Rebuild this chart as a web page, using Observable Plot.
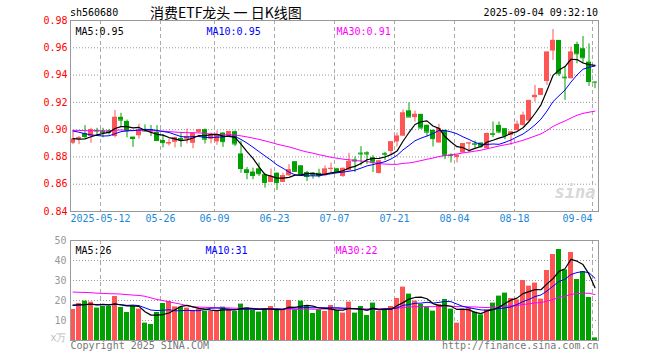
<!DOCTYPE html>
<html><head><meta charset="utf-8">
<script src="https://cdn.jsdelivr.net/npm/d3@7"></script>
<script src="https://cdn.jsdelivr.net/npm/@observablehq/plot@0.6"></script>
<style>
body{margin:0;background:#fff;}
#wrap{position:relative;width:660px;height:360px;overflow:hidden;font-family:"DejaVu Sans Mono",monospace;background:#fff;}
.t{position:absolute;white-space:pre;line-height:1;}
#main,#vol{position:absolute;left:0;}
#main{top:0;} #vol{top:232px;}
</style></head><body>
<div id="wrap">
  <div class="t" style="left:70px;top:8px;font-size:10px;color:#000">sh560680</div>
  <div class="t" style="left:150px;top:5px;font-size:14px;font-family:'Noto Sans CJK SC',sans-serif;color:#000">消费ETF龙头 一 日K线图</div>
  <div class="t" style="right:62px;top:8px;font-size:10px;color:#000">2025-09-04 09:32:10</div>
  <div id="main"></div>
  <div id="vol"></div>
</div>
<script>
const dates = ["04-30","05-06","05-07","05-08","05-09","05-12","05-13","05-14","05-15","05-16","05-19","05-20","05-21","05-22","05-23","05-26","05-27","05-28","05-29","05-30","06-03","06-04","06-05","06-06","06-09","06-10","06-11","06-12","06-13","06-16","06-17","06-18","06-19","06-20","06-23","06-24","06-25","06-26","06-27","06-30","07-01","07-02","07-03","07-04","07-07","07-08","07-09","07-10","07-11","07-14","07-15","07-16","07-17","07-18","07-21","07-22","07-23","07-24","07-25","07-28","07-29","07-30","07-31","08-01","08-04","08-05","08-06","08-07","08-08","08-11","08-12","08-13","08-14","08-15","08-18","08-19","08-20","08-21","08-22","08-25","08-26","08-27","08-28","08-29","09-01","09-02","09-03","09-04"];

const open = [0.890,0.893,0.897,0.895,0.8995,0.899,0.899,0.895,0.909,0.906, 0.8945,0.8955,0.900,0.900,0.898,0.892,0.8895,0.8907,0.8935,0.893, 0.890,0.898,0.900,0.893,0.891,0.8975,0.895,0.8985,0.8822,0.8706, 0.8689,0.8713,0.867,0.8613,0.8681,0.8613,0.8662,0.8765,0.8735,0.8686, 0.8681,0.868,0.8662,0.871,0.8713,0.8657,0.8699,0.8778,0.8828,0.8830, 0.8795,0.8679,0.8826,0.8840,0.8910,0.8952,0.9138,0.9088,0.9112,0.9032, 0.8995,0.8902,0.8995,0.8814,0.8795,0.8829,0.8898,0.8897,0.8902,0.8861, 0.8971,0.9031,0.9007,0.8958,0.8993,0.9031,0.9063,0.9234,0.9251,0.9353, 0.9576,0.9654,0.9385,0.9373,0.9624,0.9593,0.9495,0.9349];
const high = [0.899,0.895,0.903,0.901,0.901,0.901,0.900,0.914,0.912,0.907, 0.8945,0.904,0.9035,0.903,0.903,0.8965,0.893,0.8945,0.898,0.9005, 0.8975,0.9002,0.9005,0.8975,0.899,0.8975,0.8985,0.899,0.8915,0.8723, 0.8718,0.8755,0.868,0.8711,0.8681,0.8681,0.8743,0.8765,0.8735,0.8694, 0.8684,0.871,0.8735,0.8755,0.8713,0.8718,0.8826,0.880,0.8875,0.8838, 0.8809,0.8775,0.8833,0.8912,0.8975,0.9145,0.9196,0.9136,0.9112,0.9032, 0.8998,0.9039,0.8995,0.8824,0.8812,0.8897,0.8902,0.8917,0.8902,0.8976, 0.9056,0.9056,0.9007,0.8985,0.9063,0.9129,0.9214,0.9324,0.9300,0.9568, 0.9734,0.9654,0.9458,0.9605,0.9641,0.9683,0.9629,0.9349];
const low = [0.889,0.889,0.893,0.890,0.895,0.894,0.896,0.894,0.902,0.894, 0.887,0.893,0.898,0.895,0.8915,0.8866,0.888,0.8866,0.887,0.8895, 0.886,0.8975,0.8895,0.8895,0.8885,0.887,0.8945,0.8875,0.868,0.8633, 0.8633,0.8657,0.8571,0.8613,0.8554,0.8613,0.8657,0.8686,0.8657,0.862, 0.8637,0.8645,0.8655,0.8682,0.8677,0.865,0.8699,0.8686,0.8735,0.8745, 0.8686,0.8674,0.8772,0.8810,0.8873,0.8952,0.9092,0.9056,0.9005,0.8948, 0.8873,0.8902,0.8780,0.8756,0.8756,0.8829,0.8829,0.8861,0.8861,0.8853, 0.8941,0.8970,0.8926,0.8885,0.8993,0.9025,0.9063,0.9202,0.9251,0.9324, 0.9507,0.9390,0.9214,0.9373,0.9483,0.9483,0.9317,0.9300];
const close = [0.893,0.894,0.895,0.900,0.899,0.898,0.898,0.909,0.907,0.899, 0.8935,0.8995,0.899,0.899,0.892,0.8905,0.8905,0.894,0.8925,0.895, 0.8973,0.8998,0.893,0.8965,0.896,0.8912,0.8985,0.8895,0.8715,0.8686, 0.8664,0.8677,0.8613,0.8657,0.8613,0.8662,0.8706,0.8694,0.8669,0.8657, 0.8669,0.8665,0.8711,0.8716,0.8686,0.8716,0.8767,0.8770,0.8822,0.8822, 0.8762,0.8770,0.8820,0.8910,0.8952,0.9122,0.9092,0.9112,0.9012,0.8982, 0.8934,0.9007,0.8812,0.8810,0.8812,0.8897,0.8902,0.8893,0.8878,0.8971, 0.8966,0.8983,0.8958,0.8983,0.9039,0.9105,0.9214,0.9251,0.9300,0.9568, 0.9654,0.9410,0.9380,0.9568,0.9556,0.9527,0.9353,0.9348];
const volume = [15.5,18.5,19.7,19.2,16.2,17,17,22,16.5,14, 17,15.7,8.7,8,14,18.5,19.5,16.8,16.7,16.2, 15,15.7,14.7,14.5,15,16.7,15.5,14.5,18.2,16.3, 15,14.2,15.7,17,15.3,15.3,20,15.3,19.7,17.5, 13.5,15.3,14.5,17.5,15,13.7,19.2,13.7,17,12.5, 18.7,14.5,15.5,17,21,26.7,23.2,19.7,18,16.7, 14.7,18,20.5,15.7,8.7,15.3,16.3,14.2,12.8,15.3, 18.7,22.2,23.7,21,20.3,30,27.2,28.7,20.7,35, 43,45.5,35.3,44,30.5,34.5,21.5,1.3];
// estimated closes / volumes of the 29 sessions before the window (needed for MA30)
const priorClose = [0.897,0.899,0.901,0.898,0.902,0.900,0.896,0.899,0.903,0.901,0.898,0.900,0.902,0.899,0.897,0.900,0.903,0.901,0.900,0.899,0.903,0.906,0.908,0.904,0.902,0.896,0.894,0.892,0.892];
const priorVolume = [21,23,22,24,20,22,23,21,22,24,21,21,33,37,36,38,34,35,36,35,18,19,17,19,17.5,17,19,18,18];

const tickDates = ["05-12","05-26","06-09","06-23","07-07","07-21","08-04","08-18","09-04"];
const tickLabels = ["2025-05-12","05-26","06-09","06-23","07-07","07-21","08-04","08-18","09-04"];
const priceTicks = [0.84,0.86,0.88,0.90,0.92,0.94,0.96,0.98];
const volTicks = [10,20,30,40,50];

const RED = "#ff5555", GREEN = "#00a000", BLUE = "#0000ff", MAG = "#ff00ff";
const WICK = 5/12;

function movingAvg(prior, vals, n) {
  const all = prior.concat(vals), p = prior.length;
  return vals.map((_, i) => d3.mean(all.slice(p + i - n + 1, p + i + 1)));
}
const cMA5 = movingAvg(priorClose, close, 5), cMA10 = movingAvg(priorClose, close, 10), cMA30 = movingAvg(priorClose, close, 30);
const vMA5 = movingAvg(priorVolume, volume, 5), vMA10 = movingAvg(priorVolume, volume, 10), vMA30 = movingAvg(priorVolume, volume, 30);

const rows = dates.map((d, i) => ({i, d, o: open[i], h: high[i], l: low[i], c: close[i], v: volume[i],
  m5: cMA5[i], m10: cMA10[i], m30: cMA30[i], vm5: vMA5[i], vm10: vMA10[i], vm30: vMA30[i]}));
const up = rows.filter(r => r.c >= r.o), dn = rows.filter(r => r.c < r.o);
const ticks = tickDates.map((d, k) => ({i: dates.indexOf(d), label: tickLabels[k]}));
const tickIdx = ticks.map(t => t.i);
const last = rows.length - 1;

const font = {fontFamily: "DejaVu Sans Mono, monospace", fontSize: "10px", background: "transparent", overflow: "visible"};
const dotted = {stroke: "#999", strokeDasharray: "1,2"};
const dashed = {stroke: "#aaa", strokeDasharray: "4,3"};
const cx = r => r.i + WICK;

function candles(data, color) {
  return [
    Plot.ruleX(data, {x: cx, y1: "l", y2: "h", stroke: color, strokeWidth: 1}),
    Plot.rect(data, {x1: "i", x2: r => r.i + 1, y1: "o", y2: "c", fill: color, insetRight: 1}),
    Plot.ruleY(data, {y: "c", x1: "i", x2: r => r.i + 5/6, stroke: color})
  ];
}

const main = Plot.plot({
  width: 660, height: 232, marginTop: 20, marginBottom: 21, marginLeft: 70, marginRight: 62,
  x: {domain: [0, 88], axis: null},
  y: {domain: [0.84, 0.98], axis: null},
  style: font,
  marks: [
    Plot.ruleY(priceTicks.slice(1, -1), dotted),
    Plot.ruleX(tickIdx, dashed),
    Plot.axisY({ticks: priceTicks, tickFormat: d => d.toFixed(2), tickSize: 0, tickPadding: 3, color: "#f00", label: null}),
    Plot.text(ticks.slice(0, -1), {x: "i", text: "label", frameAnchor: "bottom", dy: 10, fill: "#1a88d8"}),
    Plot.text(ticks.slice(-1), {x: "i", text: "label", frameAnchor: "bottom", dy: 10, textAnchor: "end", fill: "#1a88d8"}),
    Plot.text(["sina"], {frameAnchor: "bottom-right", dx: -3, dy: -14, fontSize: 17, fontStyle: "italic", fontWeight: "bold", fill: "#d8d8d8", textAnchor: "end"}),
    ...candles(up, RED),
    ...candles(dn, GREEN),
    Plot.line(rows, {x: cx, y: "m30", stroke: MAG, strokeWidth: 1}),
    Plot.line(rows, {x: cx, y: "m10", stroke: BLUE, strokeWidth: 1}),
    Plot.line(rows, {x: cx, y: "m5", stroke: "#000", strokeWidth: 1.2}),
    Plot.text(["MA5:" + cMA5[last].toFixed(2)], {frameAnchor: "top-left", dx: 5, dy: 7, textAnchor: "start", fill: "#000"}),
    Plot.text(["MA10:" + cMA10[last].toFixed(2)], {frameAnchor: "top-left", dx: 136, dy: 7, textAnchor: "start", fill: BLUE}),
    Plot.text(["MA30:" + cMA30[last].toFixed(2)], {frameAnchor: "top-left", dx: 266, dy: 7, textAnchor: "start", fill: MAG}),
    Plot.frame({stroke: "#999"})
  ]
});
document.getElementById("main").appendChild(main);

const vol = Plot.plot({
  width: 660, height: 128, marginTop: 8, marginBottom: 20, marginLeft: 70, marginRight: 62,
  x: {domain: [0, 88], axis: null},
  y: {domain: [0, 50], axis: null},
  style: font,
  marks: [
    Plot.ruleY(volTicks.slice(0, -1), dotted),
    Plot.ruleX(tickIdx, dashed),
    Plot.axisY({ticks: volTicks, tickSize: 0, tickPadding: 4, color: "#999", label: null}),
    Plot.text(["x万"], {frameAnchor: "bottom-left", dx: -4, textAnchor: "end", fill: "#bbb"}),
    Plot.rect(up, {x1: "i", x2: r => r.i + 1, y1: 0, y2: "v", fill: RED, insetRight: 1}),
    Plot.rect(dn, {x1: "i", x2: r => r.i + 1, y1: 0, y2: "v", fill: GREEN, insetRight: 1}),
    Plot.line(rows, {x: cx, y: "vm30", stroke: MAG, strokeWidth: 1}),
    Plot.line(rows, {x: cx, y: "vm10", stroke: BLUE, strokeWidth: 1}),
    Plot.line(rows, {x: cx, y: "vm5", stroke: "#000", strokeWidth: 1.2}),
    Plot.text(["MA5:" + Math.floor(vMA5[last])], {frameAnchor: "top-left", dx: 5, dy: 6, textAnchor: "start", fill: "#000"}),
    Plot.text(["MA10:" + Math.floor(vMA10[last])], {frameAnchor: "top-left", dx: 135, dy: 6, textAnchor: "start", fill: BLUE}),
    Plot.text(["MA30:" + Math.floor(vMA30[last])], {frameAnchor: "top-left", dx: 265, dy: 6, textAnchor: "start", fill: MAG}),
    Plot.text(["Copyright 2025 SINA.COM"], {frameAnchor: "bottom-left", dy: 8, textAnchor: "start", fill: "#777"}),
    Plot.text(["http://finance.sina.com.cn"], {frameAnchor: "bottom-right", dy: 8, textAnchor: "end", fill: "#777"}),
    Plot.frame({stroke: "#999"})
  ]
});
document.getElementById("vol").appendChild(vol);
</script>
</body></html>
